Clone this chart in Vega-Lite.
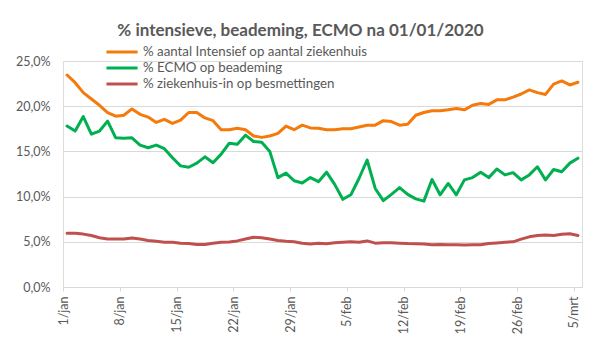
{
  "$schema": "https://vega.github.io/schema/vega-lite/v6.json",
  "width": 519,
  "height": 226,
  "autosize": {"type": "none"},
  "padding": {"left": 63, "top": 61, "right": 18, "bottom": 70},
  "background": "white",
  "title": {
    "text": "% intensieve, beademing, ECMO na 01/01/2020",
    "font": "Lato",
    "fontSize": 17,
    "fontWeight": "bold",
    "color": "#595959",
    "anchor": "middle",
    "frame": "group",
    "dx": -22,
    "offset": 3
  },
  "data": {
    "values": [
      {"d": "2021-01-01T12:00", "intensief": 23.45, "ecmo": 17.8, "ziekenhuis": 5.94},
      {"d": "2021-01-02T12:00", "intensief": 22.6, "ecmo": 17.25, "ziekenhuis": 5.94},
      {"d": "2021-01-03T12:00", "intensief": 21.5, "ecmo": 18.85, "ziekenhuis": 5.85},
      {"d": "2021-01-04T12:00", "intensief": 20.8, "ecmo": 16.9, "ziekenhuis": 5.7},
      {"d": "2021-01-05T12:00", "intensief": 20.1, "ecmo": 17.25, "ziekenhuis": 5.45},
      {"d": "2021-01-06T12:00", "intensief": 19.3, "ecmo": 18.35, "ziekenhuis": 5.31},
      {"d": "2021-01-07T12:00", "intensief": 18.9, "ecmo": 16.5, "ziekenhuis": 5.31},
      {"d": "2021-01-08T12:00", "intensief": 19.0, "ecmo": 16.45, "ziekenhuis": 5.31},
      {"d": "2021-01-09T12:00", "intensief": 19.7, "ecmo": 16.5, "ziekenhuis": 5.42},
      {"d": "2021-01-10T12:00", "intensief": 19.1, "ecmo": 15.7, "ziekenhuis": 5.3},
      {"d": "2021-01-11T12:00", "intensief": 18.8, "ecmo": 15.4, "ziekenhuis": 5.15},
      {"d": "2021-01-12T12:00", "intensief": 18.2, "ecmo": 15.7, "ziekenhuis": 5.05},
      {"d": "2021-01-13T12:00", "intensief": 18.55, "ecmo": 15.3, "ziekenhuis": 4.95},
      {"d": "2021-01-14T12:00", "intensief": 18.1, "ecmo": 14.3, "ziekenhuis": 4.95},
      {"d": "2021-01-15T12:00", "intensief": 18.45, "ecmo": 13.4, "ziekenhuis": 4.85},
      {"d": "2021-01-16T12:00", "intensief": 19.3, "ecmo": 13.25, "ziekenhuis": 4.8},
      {"d": "2021-01-17T12:00", "intensief": 19.3, "ecmo": 13.7, "ziekenhuis": 4.7},
      {"d": "2021-01-18T12:00", "intensief": 18.7, "ecmo": 14.4, "ziekenhuis": 4.7},
      {"d": "2021-01-19T12:00", "intensief": 18.4, "ecmo": 13.75, "ziekenhuis": 4.85},
      {"d": "2021-01-20T12:00", "intensief": 17.4, "ecmo": 14.7, "ziekenhuis": 4.95},
      {"d": "2021-01-21T12:00", "intensief": 17.4, "ecmo": 15.9, "ziekenhuis": 4.98},
      {"d": "2021-01-22T12:00", "intensief": 17.55, "ecmo": 15.8, "ziekenhuis": 5.1},
      {"d": "2021-01-23T12:00", "intensief": 17.4, "ecmo": 16.8, "ziekenhuis": 5.3},
      {"d": "2021-01-24T12:00", "intensief": 16.7, "ecmo": 16.1, "ziekenhuis": 5.5},
      {"d": "2021-01-25T12:00", "intensief": 16.55, "ecmo": 16.0, "ziekenhuis": 5.45},
      {"d": "2021-01-26T12:00", "intensief": 16.7, "ecmo": 15.0, "ziekenhuis": 5.3},
      {"d": "2021-01-27T12:00", "intensief": 17.0, "ecmo": 12.1, "ziekenhuis": 5.15},
      {"d": "2021-01-28T12:00", "intensief": 17.8, "ecmo": 12.6, "ziekenhuis": 5.05},
      {"d": "2021-01-29T12:00", "intensief": 17.4, "ecmo": 11.75, "ziekenhuis": 5.0},
      {"d": "2021-01-30T12:00", "intensief": 17.9, "ecmo": 11.5, "ziekenhuis": 4.85},
      {"d": "2021-01-31T12:00", "intensief": 17.6, "ecmo": 12.1, "ziekenhuis": 4.75},
      {"d": "2021-02-01T12:00", "intensief": 17.55, "ecmo": 11.65, "ziekenhuis": 4.85},
      {"d": "2021-02-02T12:00", "intensief": 17.4, "ecmo": 12.7, "ziekenhuis": 4.78},
      {"d": "2021-02-03T12:00", "intensief": 17.4, "ecmo": 11.35, "ziekenhuis": 4.9},
      {"d": "2021-02-04T12:00", "intensief": 17.5, "ecmo": 9.7, "ziekenhuis": 4.95},
      {"d": "2021-02-05T12:00", "intensief": 17.5, "ecmo": 10.2, "ziekenhuis": 5.0},
      {"d": "2021-02-06T12:00", "intensief": 17.7, "ecmo": 12.0, "ziekenhuis": 4.95},
      {"d": "2021-02-07T12:00", "intensief": 17.9, "ecmo": 14.05, "ziekenhuis": 5.1},
      {"d": "2021-02-08T12:00", "intensief": 17.9, "ecmo": 10.9, "ziekenhuis": 4.85},
      {"d": "2021-02-09T12:00", "intensief": 18.4, "ecmo": 9.55, "ziekenhuis": 4.9},
      {"d": "2021-02-10T12:00", "intensief": 18.3, "ecmo": 10.25, "ziekenhuis": 4.9},
      {"d": "2021-02-11T12:00", "intensief": 17.9, "ecmo": 11.0, "ziekenhuis": 4.85},
      {"d": "2021-02-12T12:00", "intensief": 18.0, "ecmo": 10.25, "ziekenhuis": 4.8},
      {"d": "2021-02-13T12:00", "intensief": 19.0, "ecmo": 9.75, "ziekenhuis": 4.78},
      {"d": "2021-02-14T12:00", "intensief": 19.3, "ecmo": 9.5, "ziekenhuis": 4.75},
      {"d": "2021-02-15T12:00", "intensief": 19.5, "ecmo": 11.9, "ziekenhuis": 4.68},
      {"d": "2021-02-16T12:00", "intensief": 19.5, "ecmo": 10.2, "ziekenhuis": 4.7},
      {"d": "2021-02-17T12:00", "intensief": 19.6, "ecmo": 11.45, "ziekenhuis": 4.68},
      {"d": "2021-02-18T12:00", "intensief": 19.75, "ecmo": 10.2, "ziekenhuis": 4.66},
      {"d": "2021-02-19T12:00", "intensief": 19.6, "ecmo": 11.85, "ziekenhuis": 4.65},
      {"d": "2021-02-20T12:00", "intensief": 20.1, "ecmo": 12.1, "ziekenhuis": 4.66},
      {"d": "2021-02-21T12:00", "intensief": 20.3, "ecmo": 12.7, "ziekenhuis": 4.68},
      {"d": "2021-02-22T12:00", "intensief": 20.2, "ecmo": 12.1, "ziekenhuis": 4.8},
      {"d": "2021-02-23T12:00", "intensief": 20.7, "ecmo": 13.05, "ziekenhuis": 4.88},
      {"d": "2021-02-24T12:00", "intensief": 20.7, "ecmo": 12.4, "ziekenhuis": 4.95},
      {"d": "2021-02-25T12:00", "intensief": 21.0, "ecmo": 12.65, "ziekenhuis": 5.0},
      {"d": "2021-02-26T12:00", "intensief": 21.35, "ecmo": 11.85, "ziekenhuis": 5.3},
      {"d": "2021-02-27T12:00", "intensief": 21.8, "ecmo": 12.4, "ziekenhuis": 5.55},
      {"d": "2021-02-28T12:00", "intensief": 21.5, "ecmo": 13.3, "ziekenhuis": 5.7},
      {"d": "2021-03-01T12:00", "intensief": 21.3, "ecmo": 11.85, "ziekenhuis": 5.75},
      {"d": "2021-03-02T12:00", "intensief": 22.45, "ecmo": 13.0, "ziekenhuis": 5.7},
      {"d": "2021-03-03T12:00", "intensief": 22.8, "ecmo": 12.75, "ziekenhuis": 5.83},
      {"d": "2021-03-04T12:00", "intensief": 22.35, "ecmo": 13.7, "ziekenhuis": 5.9},
      {"d": "2021-03-05T12:00", "intensief": 22.65, "ecmo": 14.25, "ziekenhuis": 5.7}
    ]
  },
  "transform": [
    {"fold": ["intensief", "ecmo", "ziekenhuis"], "as": ["reeks", "waarde"]}
  ],
  "mark": {"type": "line", "strokeWidth": 3, "strokeJoin": "round", "strokeCap": "round"},
  "encoding": {
    "x": {
      "field": "d",
      "type": "temporal",
      "scale": {
        "domain": [
          {"year": 2021, "month": 1, "date": 1},
          {"year": 2021, "month": 3, "date": 6}
        ]
      },
      "axis": {
        "title": null,
        "grid": false,
        "values": [
          {"year": 2021, "month": 1, "date": 1},
          {"year": 2021, "month": 1, "date": 8},
          {"year": 2021, "month": 1, "date": 15},
          {"year": 2021, "month": 1, "date": 22},
          {"year": 2021, "month": 1, "date": 29},
          {"year": 2021, "month": 2, "date": 5},
          {"year": 2021, "month": 2, "date": 12},
          {"year": 2021, "month": 2, "date": 19},
          {"year": 2021, "month": 2, "date": 26},
          {"year": 2021, "month": 3, "date": 5}
        ],
        "labelExpr": "timeFormat(datum.value, '%-d') + '/' + (month(datum.value) == 0 ? 'jan' : month(datum.value) == 1 ? 'feb' : 'mrt')",
        "labelAngle": -90,
        "labelAlign": "right",
        "labelBaseline": "middle",
        "labelFont": "Lato",
        "labelFontSize": 12.5,
        "labelColor": "#595959",
        "labelPadding": 5,
        "labelOverlap": false,
        "labelFlush": false,
        "domainColor": "#D9D9D9",
        "domainWidth": 1,
        "tickColor": "#D9D9D9",
        "tickSize": 4
      }
    },
    "y": {
      "field": "waarde",
      "type": "quantitative",
      "scale": {"domain": [0, 25], "nice": false},
      "axis": {
        "title": null,
        "values": [0, 5, 10, 15, 20, 25],
        "labelExpr": "replace(format(datum.value, '.1f'), '.', ',') + '%'",
        "labelFont": "Lato",
        "labelFontSize": 12.5,
        "labelColor": "#595959",
        "labelPadding": 13,
        "ticks": false,
        "domain": false,
        "gridColor": "#D9D9D9",
        "gridWidth": 1
      }
    },
    "color": {
      "field": "reeks",
      "type": "nominal",
      "scale": {
        "domain": ["intensief", "ecmo", "ziekenhuis"],
        "range": ["#F47A0C", "#00B050", "#C0504D"]
      },
      "legend": {
        "title": null,
        "orient": "none",
        "legendX": 50,
        "legendY": -18,
        "symbolType": "M-2.2,0L2.2,0",
        "symbolSize": 200,
        "symbolStrokeWidth": 3,
        "labelFont": "Lato",
        "labelFontSize": 13.3,
        "labelLimit": 0,
        "labelColor": "#595959",
        "labelOffset": 12,
        "rowPadding": 0,
        "labelExpr": "datum.value == 'intensief' ? '% aantal Intensief op aantal ziekenhuis' : datum.value == 'ecmo' ? '% ECMO op beademing' : '% ziekenhuis-in op besmettingen'"
      }
    }
  }
}
